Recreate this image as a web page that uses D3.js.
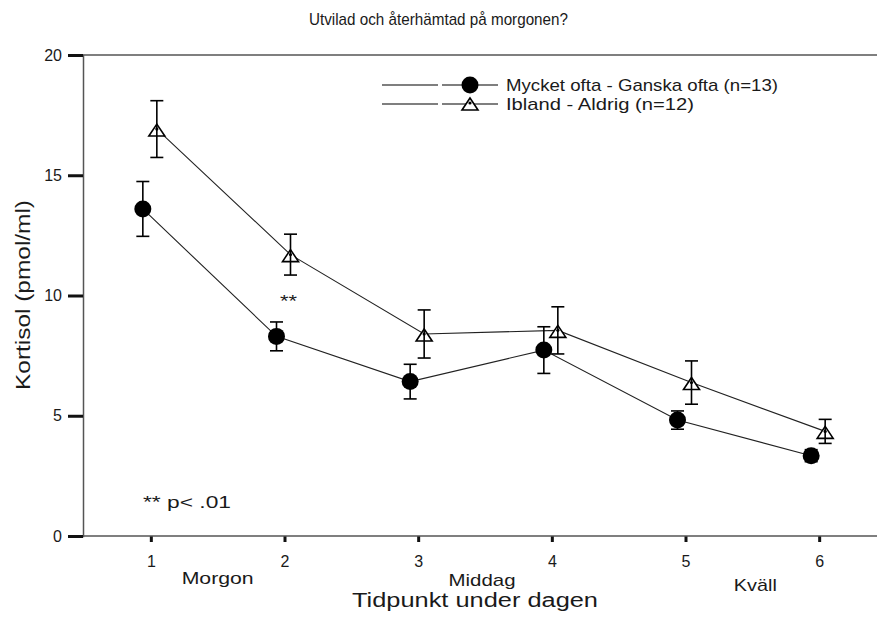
<!DOCTYPE html>
<html>
<head>
<meta charset="utf-8">
<script src="https://cdn.jsdelivr.net/npm/d3@7"></script>
<style>
  html, body { margin: 0; padding: 0; background: #fff; }
  svg text { font-family: "Liberation Sans", Arial, sans-serif; fill: #1a1a1a; }
</style>
</head>
<body>
<svg id="chart" width="877" height="644"></svg>
<script>
// Time points across the day
const timepoints = [1, 2, 3, 4, 5, 6];
const periodLabels = [
  { at: 1.5, text: "Morgon" },
  { at: 3.5, text: "Middag" },
  { at: 5.5, text: "Kväll" }
];
const yTicks = [0, 5, 10, 15, 20];

// Mean cortisol (pmol/ml) and error (±) per group
const oftaMeans  = [13.6, 8.3, 6.42, 7.73, 4.82, 3.34];
const oftaErr    = [1.14, 0.6, 0.72, 0.97, 0.38, 0.25];
const sallanMeans = [16.92, 11.7, 8.4, 8.55, 6.38, 4.35];
const sallanErr   = [1.18, 0.85, 1.0, 0.98, 0.9, 0.5];

const seriesNames = ["Mycket ofta - Ganska ofta (n=13)", "Ibland - Aldrig (n=12)"];

const svg = d3.select("#chart");
const W = 877;

const x = d3.scaleLinear().domain([0.5, 6.5]).range([84, 886]);
const y = d3.scaleLinear().domain([0, 20]).range([536, 55]);

// Helper: text with a fixed rendered width
function label(sel, txt, size, width) {
  sel.attr("font-size", size).text(txt);
  if (width) sel.attr("textLength", width).attr("lengthAdjust", "spacingAndGlyphs");
  return sel;
}

// Top frame line
svg.append("line")
  .attr("x1", 83).attr("x2", W)
  .attr("y1", y(20)).attr("y2", y(20))
  .attr("stroke", "#555").attr("stroke-width", 1.5);

// Y axis
const yAxis = svg.append("g")
  .attr("transform", "translate(83,0)")
  .call(d3.axisLeft(y).tickValues(yTicks).tickSize(15).tickPadding(6));
yAxis.select(".domain").attr("stroke", "#555").attr("stroke-width", 1.5);
yAxis.selectAll(".tick line").attr("stroke", "#111").attr("stroke-width", 3);
yAxis.selectAll(".tick text").attr("font-size", 16).attr("fill", "#1a1a1a");

// X axis
const xAxis = svg.append("g")
  .attr("transform", `translate(0,${y(0)})`)
  .call(d3.axisBottom(x).tickValues(timepoints).tickFormat(d3.format("d")).tickSize(6).tickPadding(14));
xAxis.select(".domain").remove();
svg.append("line")
  .attr("x1", 83).attr("x2", W)
  .attr("y1", y(0)).attr("y2", y(0))
  .attr("stroke", "#555").attr("stroke-width", 1.5);
xAxis.selectAll(".tick line").attr("stroke", "#111").attr("stroke-width", 3);
xAxis.selectAll(".tick text").attr("font-size", 16).attr("fill", "#1a1a1a");

// Period labels below ticks
svg.selectAll("text.period")
  .data(periodLabels)
  .join("text")
  .attr("class", "period")
  .attr("x", (d, i) => x(d.at) + [0, -3, 3][i])
  .attr("y", (d, i) => [584, 586, 591][i])
  .attr("text-anchor", "middle")
  .attr("font-size", 17)
  .attr("textLength", (d, i) => [72, 67, 43][i])
  .attr("lengthAdjust", "spacingAndGlyphs")
  .text(d => d.text);

// Titles
label(svg.append("text").attr("x", 438.5).attr("y", 25).attr("text-anchor", "middle"),
  "Utvilad och återhämtad på morgonen?", 17, 259);

label(svg.append("text").attr("x", 475).attr("y", 607).attr("text-anchor", "middle"),
  "Tidpunkt under dagen", 20, 246);

label(svg.append("text").attr("transform", "translate(30,295) rotate(-90)").attr("text-anchor", "middle"),
  "Kortisol (pmol/ml)", 20, 190);

// Significance annotations
label(svg.append("text").attr("x", x(2) + 4).attr("y", 307).attr("text-anchor", "middle"),
  "**", 17, 17);
label(svg.append("text").attr("x", 143).attr("y", 508),
  "** p< .01", 17, 88);

const groups = [
  { name: seriesNames[0], means: oftaMeans, err: oftaErr, dx: -8, shape: "circle", w: 272 },
  { name: seriesNames[1], means: sallanMeans, err: sallanErr, dx: 6, shape: "triangle", w: 188 }
];

const line = d3.line();
const capW = 6.5;

function drawMarker(g, shape, cx, cy) {
  if (shape === "circle") {
    g.append("circle").attr("cx", cx).attr("cy", cy).attr("r", 8.5).attr("fill", "#000");
  } else {
    g.append("path")
      .attr("d", `M${cx},${cy - 5} L${cx + 8},${cy + 7} L${cx - 8},${cy + 7} Z`)
      .attr("fill", "#fff").attr("stroke", "#000").attr("stroke-width", 1.6);
    g.append("circle").attr("cx", cx).attr("cy", cy).attr("r", 1.6).attr("fill", "#000");
  }
}

groups.forEach(gr => {
  const pts = timepoints.map((t, i) => [x(t) + gr.dx, y(gr.means[i])]);
  svg.append("path")
    .attr("d", line(pts))
    .attr("fill", "none").attr("stroke", "#222").attr("stroke-width", 1.1);
});

groups.forEach(gr => {
  const g = svg.append("g");
  timepoints.forEach((t, i) => {
    const cx = x(t) + gr.dx;
    const cy = y(gr.means[i]);
    drawMarker(g, gr.shape, cx, cy);
    const top = y(gr.means[i] + gr.err[i]);
    const bot = y(gr.means[i] - gr.err[i]);
    g.append("line").attr("x1", cx).attr("x2", cx).attr("y1", top).attr("y2", bot)
      .attr("stroke", "#000").attr("stroke-width", 1.6);
    [top, bot].forEach(v => g.append("line")
      .attr("x1", cx - capW).attr("x2", cx + capW).attr("y1", v).attr("y2", v)
      .attr("stroke", "#000").attr("stroke-width", 1.6));
  });
});

// Legend
const legend = svg.append("g");
groups.forEach((gr, i) => {
  const ly = 85 + i * 19;
  legend.append("line").attr("x1", 382).attr("x2", 438).attr("y1", ly).attr("y2", ly)
    .attr("stroke", "#000").attr("stroke-width", 1.1);
  legend.append("line").attr("x1", 442).attr("x2", 498).attr("y1", ly).attr("y2", ly)
    .attr("stroke", "#000").attr("stroke-width", 1.1);
  drawMarker(legend, gr.shape, 470, gr.shape === "triangle" ? ly - 1 : ly);
  label(legend.append("text").attr("x", 506).attr("y", ly + 6), gr.name, 17, gr.w);
});
</script>
</body>
</html>
